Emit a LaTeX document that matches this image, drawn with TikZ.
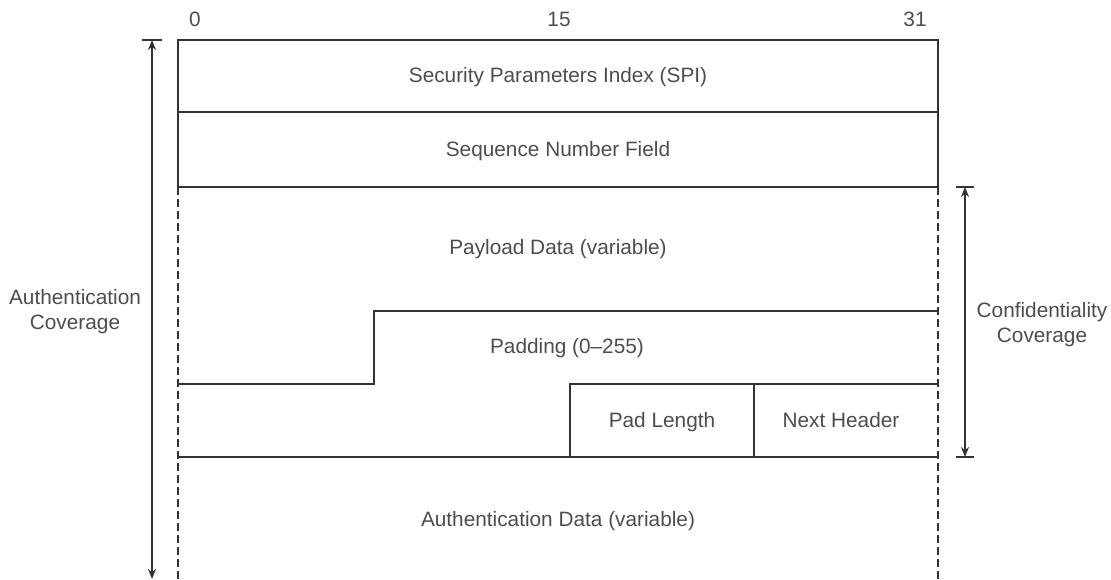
\documentclass[tikz,border=0pt]{standalone}
\usepackage{fontspec}
\setmainfont{Liberation Sans}
\usetikzlibrary{arrows.meta, positioning}
\definecolor{linegray}{HTML}{333333}
\definecolor{textgray}{HTML}{4D4D4D}

\begin{document}
\begin{tikzpicture}[
    x=0.5pt,
    y=-0.5pt,
    >={Stealth[length=5pt,width=4pt]},
    line width=1pt,
    every node/.style={text=textgray, font=\fontsize{10.4}{12.5}\selectfont, align=center},
    field/.style={text height=1.6ex, text depth=0.45ex},
    rule/.style={draw=linegray},
    open/.style={draw=linegray, line width=1.1pt, dash pattern=on 4pt off 2pt},
]
    \useasboundingbox (0,0) rectangle (1111,579);

    % bit positions
    \node[field] (b0)  at (195,20) {0};
    \node[field] (b15) at (559,20) {15};
    \node[field] (b31) at (915,20) {31};

    % fixed part of the header
    \draw[rule] (178,187) -- (178,40) -- (938,40) -- (938,187);
    \draw[rule] (178,112) -- (938,112);
    \draw[rule] (178,187) -- (938,187);

    % variable part
    \draw[open] (178,187) -- (178,579);
    \draw[open] (938,187) -- (938,579);
    \draw[rule] (178,384) -- (374,384) -- (374,311) -- (938,311);
    \draw[rule] (570,457) -- (570,384) -- (938,384);
    \draw[rule] (754,384) -- (754,457);
    \draw[rule] (178,457) -- (938,457);

    \node[field] (spi)     at (558,76)  {Security Parameters Index (SPI)};
    \node[field] (seq)     at (558,150) {Sequence Number Field};
    \node[field] (payload) at (558,248) {Payload Data (variable)};
    \node[field] (pad)     at (567,347) {Padding (0--255)};
    \node[field] (padlen)  at (662,421) {Pad Length};
    \node[field] (next)    at (841,421) {Next Header};
    \node[field] (auth)    at (558,520) {Authentication Data (variable)};

    % coverage
    \node (authcov) at (75,312)   {Authentication\\Coverage};
    \node (confcov) at (1042,325) {Confidentiality\\Coverage};

    \coordinate (atop) at (152,40);
    \coordinate (abot) at (152,579);
    \coordinate (ctop) at (965,187);
    \coordinate (cbot) at (965,457);

    \draw[rule, <->] (atop) -- (abot);
    \draw[rule] ([xshift=-5pt]atop) -- ([xshift=5pt]atop);
    \draw[rule, <->] (ctop) -- (cbot);
    \draw[rule] ([xshift=-4.5pt]ctop) -- ([xshift=4.5pt]ctop);
    \draw[rule] ([xshift=-4.5pt]cbot) -- ([xshift=4.5pt]cbot);
\end{tikzpicture}
\end{document}
